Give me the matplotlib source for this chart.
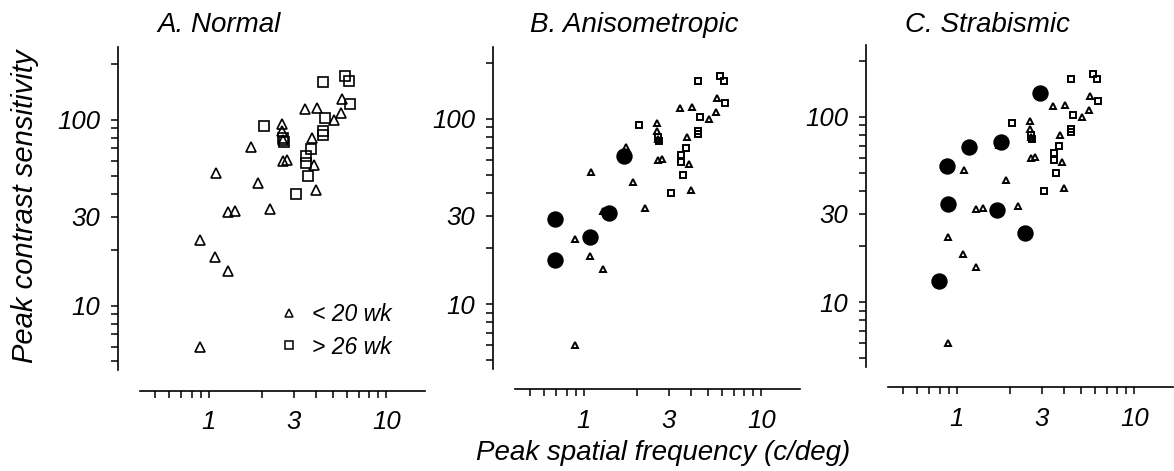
import numpy as np
import matplotlib
matplotlib.use("Agg")
import matplotlib.pyplot as plt
from matplotlib.lines import Line2D
from matplotlib.ticker import FixedLocator, NullFormatter

plt.rcParams['font.family'] = ['Liberation Sans', 'DejaVu Sans']
plt.rcParams['font.style'] = 'italic'

# normal monkeys, shown in every panel
young_f = [0.89, 0.89, 1.09, 1.29, 1.10, 1.29, 1.41, 1.74, 1.89, 2.21, 2.59, 2.59,
           2.63, 2.63, 2.74, 3.46, 4.08, 3.83, 3.90, 3.99, 5.10, 5.56, 5.63]
young_s = [6.0, 22.4, 18.2, 15.4, 51.6, 31.8, 32.2, 71, 45.4, 33.2, 94.8, 86.5,
           78, 60, 60.8, 114.6, 115.6, 79.7, 56.8, 41.6, 100, 108.7, 129]
old_f = [4.39, 5.86, 6.12, 6.2, 4.5, 4.4, 4.4, 2.05, 2.65, 2.63, 3.78, 3.51, 3.51, 3.63, 3.11]
old_s = [160, 171, 161, 122, 102, 86.5, 83, 92.9, 76, 80, 69.8, 64, 58.5, 49.9, 40]

# amblyopic monkeys
aniso_f = [0.69, 0.69, 1.09, 1.38, 1.68]
aniso_s = [28.8, 17.3, 23.1, 30.9, 63.4]
strab_f = [0.88, 0.89, 0.79, 1.17, 1.77, 1.68, 2.41, 2.95]
strab_s = [54.5, 34.0, 13.0, 69.2, 73.6, 31.6, 23.7, 134]

titles = ["A. Normal", "B. Anisometropic", "C. Strabismic"]
legend_labels = ["< 20 wk", "> 26 wk"]

W, H = 1174, 471
fig = plt.figure(figsize=(W / 100, H / 100), dpi=100)

# pixel boxes (left, right, top, bottom) of each panel
boxes = [(140, 425, 47, 370), (515, 800, 46.5, 368.5), (888, 1173, 44.5, 366.5)]
title_x = [157, 530, 905]

axs = []
for i, (x0, x1, y0, y1) in enumerate(boxes):
    ax = fig.add_axes([x0 / W, (H - y1) / H, (x1 - x0) / W, (y1 - y0) / H])
    ax.set_xscale('log')
    ax.set_yscale('log')
    ax.set_xlim(0.41, 16.5)
    ax.set_ylim(4.5, 246)
    for s in ['top', 'right']:
        ax.spines[s].set_visible(False)
    ax.spines['left'].set_position(('outward', 16))
    ax.spines['bottom'].set_position(('outward', 15))
    ax.spines['left'].set_linewidth(1.2)
    ax.spines['bottom'].set_linewidth(1.2)
    ax.xaxis.set_major_locator(FixedLocator([1, 3, 10]))
    ax.xaxis.set_minor_locator(FixedLocator([0.5, 0.6, 0.7, 0.8, 0.9, 2, 4, 5, 6, 7, 8, 9]))
    ax.set_xticklabels(['1', '3', '10'])
    ax.xaxis.set_minor_formatter(NullFormatter())
    ax.yaxis.set_major_locator(FixedLocator([10, 30, 100]))
    ax.yaxis.set_minor_locator(FixedLocator([5, 6, 7, 8, 9, 20, 40, 50, 60, 70, 80, 90, 200]))
    ax.set_yticklabels(['10', '30', '100'])
    ax.yaxis.set_minor_formatter(NullFormatter())
    ax.tick_params(axis='both', which='both', length=4.8, width=1.1, direction='out')
    ax.tick_params(axis='x', which='major', labelsize=18.5, pad=9)
    ax.tick_params(axis='y', which='major', labelsize=18.5, pad=8)
    fig.text(title_x[i] / W, (H - 32.5) / H, titles[i], fontsize=20, ha='left', va='baseline')
    axs.append(ax)

# panel A: larger open symbols
axs[0].plot(young_f, young_s, '^', ms=7.8, mfc='none', mec='black', mew=1.2)
axs[0].plot(old_f, old_s, 's', ms=7.0, mfc='none', mec='black', mew=1.2)

# panels B and C: normals small, amblyopes as filled circles
for ax in axs[1:]:
    ax.plot(young_f, young_s, '^', ms=4.6, mfc='none', mec='black', mew=1.4)
    ax.plot(old_f, old_s, 's', ms=4.6, mfc='none', mec='black', mew=1.4)
axs[1].plot(aniso_f, aniso_s, 'o', ms=10.8, color='black', zorder=3)
axs[2].plot(strab_f, strab_s, 'o', ms=10.8, color='black', zorder=3)

handles = [Line2D([], [], ls='none', marker='^', ms=6, mfc='none', mec='black', mew=1.1),
           Line2D([], [], ls='none', marker='s', ms=5.5, mfc='none', mec='black', mew=1.1)]
axs[0].legend(handles, legend_labels, loc='center left', bbox_to_anchor=(0.49, 0.121),
              frameon=False, fontsize=16.5, handlelength=0.8, handletextpad=0.6,
              labelspacing=0.4, borderpad=0, borderaxespad=0)

fig.text(25 / W, (H - 206) / H, "Peak contrast sensitivity", fontsize=21,
         rotation=90, ha='center', va='center')
fig.text(663 / W, (H - 460) / H, "Peak spatial frequency (c/deg)", fontsize=20,
         ha='center', va='baseline')

fig.savefig("out.png", dpi=100)
